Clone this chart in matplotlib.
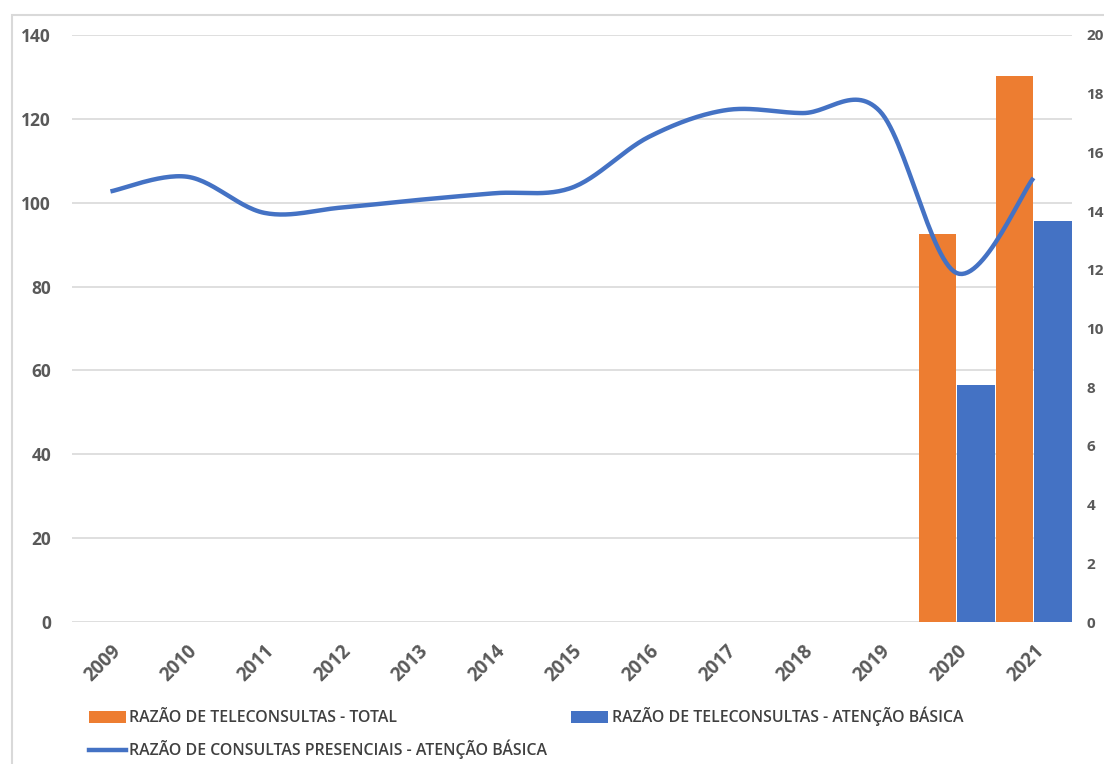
import numpy as np
import matplotlib
matplotlib.use("Agg")
import matplotlib.pyplot as plt
from matplotlib.patches import Rectangle, Patch
from matplotlib.lines import Line2D

# ---- data ----
years = ["2009", "2010", "2011", "2012", "2013", "2014", "2015",
         "2016", "2017", "2018", "2019", "2020", "2021"]
tele_total = [None] * 11 + [92.5, 130.2]          # left axis
tele_basica = [None] * 11 + [56.5, 95.6]          # left axis
presenciais = [14.67, 15.17, 13.94, 14.12, 14.38, 14.61, 14.80,
               16.53, 17.44, 17.34, 17.41, 11.89, 15.13]   # right axis

left_ticks = [0, 20, 40, 60, 80, 100, 120, 140]
right_ticks = [0, 2, 4, 6, 8, 10, 12, 14, 16, 18, 20]

label_total = "RAZÃO DE TELECONSULTAS - TOTAL"
label_basica = "RAZÃO DE TELECONSULTAS - ATENÇÃO BÁSICA"
label_pres = "RAZÃO DE CONSULTAS PRESENCIAIS - ATENÇÃO BÁSICA"

ORANGE = "#ED7D31"
BLUE = "#4472C4"
GRID = "#D9D9D9"
TXT = "#595959"
LEG_TXT = "#404040"


def smooth_curve(x, y, n=30):
    """Catmull-Rom style smoothing through every point (like a smoothed line chart)."""
    x = np.asarray(x, float)
    y = np.asarray(y, float)
    px = np.concatenate([[2 * x[0] - x[1]], x, [2 * x[-1] - x[-2]]])
    py = np.concatenate([[y[0]], y, [y[-1]]])
    xs, ys = [], []
    for i in range(1, len(px) - 2):
        p0, p1, p2, p3 = (np.array([px[j], py[j]]) for j in (i - 1, i, i + 1, i + 2))
        if i == 1:
            p0 = p1
        if i == len(px) - 3:
            p3 = p2
        c1 = p1 + (p2 - p0) / 6.0
        c2 = p2 - (p3 - p1) / 6.0
        t = np.linspace(0, 1, n)[:, None]
        pts = ((1 - t) ** 3) * p1 + 3 * ((1 - t) ** 2) * t * c1 + 3 * (1 - t) * t ** 2 * c2 + t ** 3 * p2
        xs.append(pts[:, 0])
        ys.append(pts[:, 1])
    return np.concatenate(xs), np.concatenate(ys)


plt.rcParams["font.family"] = ["Open Sans", "DejaVu Sans"]

W, H = 1104, 764
fig = plt.figure(figsize=(W / 100, H / 100), dpi=100)
fig.patch.set_facecolor("white")

# outer chart frame
fig.patches.append(Rectangle((12 / W, -0.05), 1.2, (H - 15) / H + 0.05,
                             transform=fig.transFigure, fill=False,
                             edgecolor=GRID, linewidth=1.5))

ax = fig.add_axes([72 / W, 1 - 622 / H, 1000 / W, (622 - 35) / H])
ax2 = ax.twinx()

x = np.arange(len(years))
bw = 0.487
off = 0.25
xt = [xi for xi, v in zip(x, tele_total) if v is not None]
vt = [v for v in tele_total if v is not None]
xb = [xi for xi, v in zip(x, tele_basica) if v is not None]
vb = [v for v in tele_basica if v is not None]
ax.bar(np.array(xt) - off, vt, width=bw, color=ORANGE, zorder=2)
ax.bar(np.array(xb) + off, vb, width=bw, color=BLUE, zorder=2)

sx, sy = smooth_curve(x, presenciais)
ax2.plot(sx, sy, color=BLUE, linewidth=3.2, solid_capstyle="butt", zorder=3)

ax.set_xlim(-0.5, len(years) - 0.5)
ax.set_ylim(0, 140)
ax2.set_ylim(0, 20)
ax.set_yticks(left_ticks)
ax2.set_yticks(right_ticks)
ax.grid(axis="y", color=GRID, linewidth=1.2, zorder=0)
ax.set_axisbelow(True)

for a in (ax, ax2):
    for s in a.spines.values():
        s.set_visible(False)

ax.tick_params(axis="y", length=0, pad=15, labelsize=12.5, labelcolor=TXT)
ax2.tick_params(axis="y", length=0, pad=10.5, labelsize=11, labelcolor=TXT)
for lab in ax.get_yticklabels() + ax2.get_yticklabels():
    lab.set_fontweight("bold")

ax.set_xticks(x)
ax.set_xticklabels(years, rotation=45, ha="right", rotation_mode="anchor",
                   fontsize=13.5, fontweight="bold", color=TXT)
ax.tick_params(axis="x", length=0, pad=14)

handles = [Patch(facecolor=ORANGE, edgecolor="none"),
           Line2D([0], [0], color=BLUE, linewidth=3.2),
           Patch(facecolor=BLUE, edgecolor="none")]
labels = [label_total, label_pres, label_basica]
fig.legend(handles, labels, ncol=2, loc="upper left",
           bbox_to_anchor=(89 / W, 1 - 707 / H), frameon=False,
           prop={"size": 11.4, "weight": "semibold"}, labelcolor=LEG_TXT,
           handlelength=2.35, handleheight=0.75,
           handletextpad=0.2, columnspacing=1.5, labelspacing=0.85,
           borderaxespad=0, borderpad=0)

fig.savefig("out.png", dpi=100, facecolor="white")
